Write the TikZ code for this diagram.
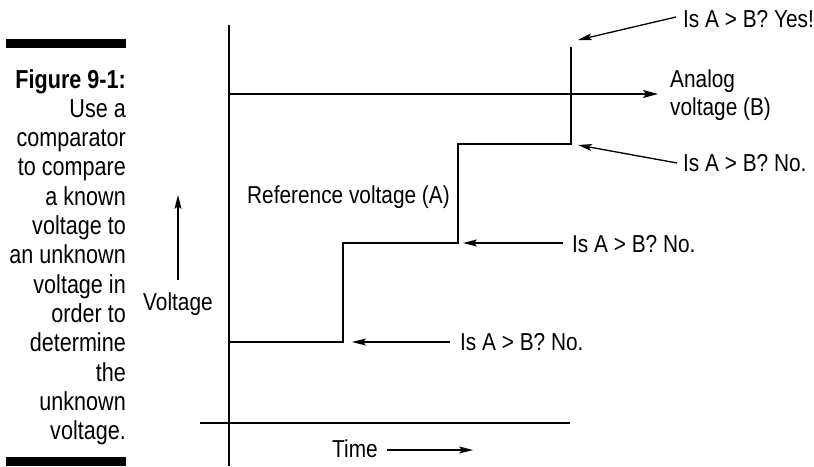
\documentclass[tikz,border=0pt]{standalone}
\usepackage{fontspec}
\setmainfont[FakeStretch=0.85]{Liberation Sans}
\newfontfamily\capfont[FakeStretch=0.83]{Liberation Sans}
\usetikzlibrary{arrows.meta}
\begin{document}
\begin{tikzpicture}[x=1pt,y=-1pt,
  lbl/.style={inner sep=0pt, font=\fontsize{24.5}{28}\selectfont, anchor=base west},
  axis/.style={line width=1.8pt},
  stair/.style={line width=2.4pt, line join=miter},
  pointer/.style={line width=1.3pt, -{Stealth[length=14pt,width=7pt,inset=3pt]}},
  bar/.style={fill=black, draw=none}]
\useasboundingbox (0,0) rectangle (814,466);

% caption bars
\fill[bar] (6,39) rectangle (126,48);
\fill[bar] (6,457) rectangle (126,466);
\node[anchor=north east, align=right, inner sep=0pt,
      font=\capfont\fontsize{26}{29.3}\selectfont] (caption) at (126,69)
  {\textbf{Figure 9-1:}\\Use a\\comparator\\to compare\\a known\\voltage to\\an unknown\\voltage in\\order to\\determine\\the\\unknown\\voltage.};

% axes
\coordinate (vtop) at (229,25);
\coordinate (vbot) at (229,466);
\coordinate (tl) at (200,423);
\coordinate (tr) at (570,423);
\draw[axis] (vtop) -- (vbot);
\draw[axis] (tl) -- (tr);

% analog voltage
\coordinate (bstart) at (229,94);
\coordinate (bend) at (658,94);
\draw[line width=1.8pt, -{Stealth[length=15pt,width=8pt,inset=3pt]}] (bstart) -- (bend);
\node[lbl] (analog) at (670,87) {Analog};
\node[lbl] (analogb) at (670,115) {voltage (B)};

% staircase
\coordinate (s0) at (229,342);
\coordinate (s1) at (343,342);
\coordinate (s2) at (343,243);
\coordinate (s3) at (458,243);
\coordinate (s4) at (458,144);
\coordinate (s5) at (571,144);
\coordinate (s6) at (571,47);
\draw[stair] (s0) -- (s1) -- (s2) -- (s3) -- (s4) -- (s5) -- (s6);
\node[lbl] (ref) at (247,203) {Reference voltage (A)};

% labels with pointers
\node[lbl] (yes) at (683,27) {Is A > B? Yes!};
\coordinate (yesp) at (676,17);
\coordinate (yest) at (578,40);
\draw[pointer] (yesp) -- (yest);

\node[lbl] (no3) at (683,171) {Is A > B? No.};
\coordinate (no3p) at (677,163);
\coordinate (no3t) at (578,145);
\draw[pointer] (no3p) -- (no3t);

\node[lbl] (no2) at (572,252) {Is A > B? No.};
\coordinate (no2p) at (563,243);
\coordinate (no2t) at (463,243);
\draw[pointer] (no2p) -- (no2t);

\node[lbl] (no1) at (460,350) {Is A > B? No.};
\coordinate (no1p) at (450,342);
\coordinate (no1t) at (352,342);
\draw[pointer] (no1p) -- (no1t);

% axis labels
\node[lbl] (time) at (332,457) {Time};
\coordinate (ta) at (387,450);
\coordinate (tb) at (473,450);
\draw[pointer] (ta) -- (tb);

\node[lbl] (volt) at (143,310) {Voltage};
\coordinate (va) at (178,280);
\coordinate (vb) at (178,195);
\draw[pointer] (va) -- (vb);
\end{tikzpicture}
\end{document}
